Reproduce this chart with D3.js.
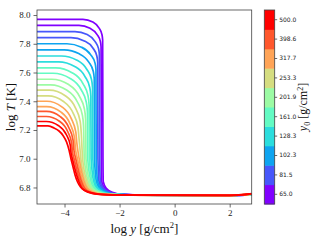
<!DOCTYPE html>
<html>
<head>
<meta charset="utf-8">
<script src="https://cdn.jsdelivr.net/npm/d3@7/dist/d3.min.js"></script>
<style>
  body { margin: 0; background: #fff; }
  .tick text { font-family: "Liberation Serif", serif; fill: #222; }
  .cbar .tick text { font-family: "DejaVu Sans", sans-serif; }
</style>
</head>
<body>
<div id="chart"></div>
<script>
// tick values
const xTicks = [-4, -2, 0, 2];
const yTicks = [6.8, 7.0, 7.2, 7.4, 7.6, 7.8, 8.0];

// colourbar: y0 bins, bottom to top
const cbarLabels = ["65.0", "81.5", "102.3", "128.3", "161.0", "201.9", "253.3", "317.7", "398.6", "500.0"];
const cbarColors = ["#8000ff", "#4757fb", "#0ea4f0", "#2bdddd", "#63fbc3", "#9cfba4", "#d5dd80", "#ffa457", "#ff572c", "#ff0000"];

// colour bin of each profile, hottest (top) profile first
const profileBin = [0, 0, 1, 1, 2, 2, 3, 3, 4, 4, 5, 5, 6, 6, 7, 7, 8, 8, 9, 9];

// [log y, log T], one list per profile
const profiles = [
  [[-5, 7.970], [-3.330, 7.970], [-2.973, 7.951], [-2.744, 7.909], [-2.639, 7.863], [-2.615, 7.826], [-2.603, 7.0], [-2.592, 6.84], [-2.482, 6.795], [-2.262, 6.767], [-1.862, 6.752], [-0.992, 6.747], [2.0, 6.745], [2.8, 6.748]],
  [[-5, 7.928], [-3.475, 7.928], [-3.074, 7.908], [-2.817, 7.864], [-2.699, 7.817], [-2.672, 7.778], [-2.662, 7.0], [-2.649, 6.84], [-2.539, 6.795], [-2.319, 6.767], [-1.919, 6.752], [-1.049, 6.747], [2.0, 6.745], [2.8, 6.748]],
  [[-5, 7.885], [-3.620, 7.885], [-3.177, 7.864], [-2.894, 7.817], [-2.764, 7.766], [-2.734, 7.725], [-2.724, 7.0], [-2.697, 6.84], [-2.587, 6.795], [-2.367, 6.767], [-1.967, 6.752], [-1.097, 6.747], [2.0, 6.745], [2.8, 6.749]],
  [[-5, 7.843], [-3.765, 7.843], [-3.281, 7.820], [-2.971, 7.771], [-2.829, 7.717], [-2.796, 7.673], [-2.786, 7.0], [-2.746, 6.84], [-2.636, 6.795], [-2.416, 6.767], [-2.016, 6.752], [-1.146, 6.747], [2.0, 6.745], [2.8, 6.749]],
  [[-5, 7.800], [-3.910, 7.800], [-3.384, 7.776], [-3.048, 7.723], [-2.894, 7.667], [-2.858, 7.620], [-2.848, 7.0], [-2.795, 6.84], [-2.685, 6.795], [-2.465, 6.767], [-2.065, 6.752], [-1.195, 6.747], [2.0, 6.745], [2.8, 6.750]],
  [[-5, 7.757], [-4.012, 7.757], [-3.466, 7.730], [-3.118, 7.672], [-2.957, 7.609], [-2.920, 7.557], [-2.910, 7.0], [-2.844, 6.84], [-2.734, 6.795], [-2.514, 6.767], [-2.114, 6.752], [-1.244, 6.747], [2.0, 6.745], [2.8, 6.750]],
  [[-5, 7.715], [-4.114, 7.715], [-3.548, 7.686], [-3.187, 7.621], [-3.021, 7.552], [-2.982, 7.495], [-2.972, 7.0], [-2.892, 6.84], [-2.782, 6.795], [-2.562, 6.767], [-2.162, 6.752], [-1.292, 6.747], [2.0, 6.745], [2.8, 6.751]],
  [[-5, 7.674], [-4.216, 7.674], [-3.630, 7.642], [-3.256, 7.572], [-3.084, 7.496], [-3.044, 7.434], [-3.034, 7.0], [-2.941, 6.84], [-2.831, 6.795], [-2.611, 6.767], [-2.211, 6.752], [-1.341, 6.747], [2.0, 6.745], [2.8, 6.751]],
  [[-5, 7.632], [-4.318, 7.632], [-3.712, 7.597], [-3.325, 7.521], [-3.147, 7.439], [-3.106, 7.372], [-3.096, 7.0], [-2.990, 6.84], [-2.880, 6.795], [-2.660, 6.767], [-2.260, 6.752], [-1.390, 6.747], [2.0, 6.745], [2.8, 6.752]],
  [[-5, 7.595], [-4.420, 7.595], [-3.794, 7.559], [-3.395, 7.480], [-3.211, 7.395], [-3.168, 7.325], [-3.158, 7.0], [-3.038, 6.84], [-2.928, 6.795], [-2.708, 6.767], [-2.308, 6.752], [-1.438, 6.747], [2.0, 6.745], [2.8, 6.752]],
  [[-5, 7.553], [-4.464, 7.553], [-3.850, 7.516], [-3.457, 7.434], [-3.277, 7.346], [-3.235, 7.273], [-3.220, 7.0], [-3.087, 6.84], [-2.977, 6.795], [-2.757, 6.767], [-2.357, 6.752], [-1.487, 6.747], [2.0, 6.745], [2.8, 6.752]],
  [[-5, 7.514], [-4.508, 7.514], [-3.909, 7.476], [-3.527, 7.393], [-3.351, 7.303], [-3.310, 7.229], [-3.282, 7.0], [-3.136, 6.84], [-3.026, 6.795], [-2.806, 6.767], [-2.406, 6.752], [-1.536, 6.747], [2.0, 6.745], [2.8, 6.753]],
  [[-5, 7.477], [-4.552, 7.477], [-3.973, 7.438], [-3.604, 7.354], [-3.433, 7.262], [-3.394, 7.187], [-3.344, 7.0], [-3.184, 6.84], [-3.074, 6.795], [-2.854, 6.767], [-2.454, 6.752], [-1.584, 6.747], [2.0, 6.745], [2.8, 6.753]],
  [[-5, 7.437], [-4.596, 7.437], [-4.036, 7.398], [-3.679, 7.314], [-3.514, 7.222], [-3.476, 7.147], [-3.406, 7.0], [-3.233, 6.84], [-3.123, 6.795], [-2.903, 6.767], [-2.503, 6.752], [-1.633, 6.747], [2.0, 6.745], [2.8, 6.754]],
  [[-5, 7.400], [-4.640, 7.400], [-4.097, 7.361], [-3.750, 7.277], [-3.590, 7.185], [-3.553, 7.110], [-3.468, 7.0], [-3.282, 6.84], [-3.172, 6.795], [-2.952, 6.767], [-2.552, 6.752], [-1.682, 6.747], [2.0, 6.745], [2.8, 6.754]],
  [[-5, 7.363], [-4.646, 7.363], [-4.126, 7.324], [-3.793, 7.240], [-3.640, 7.148], [-3.605, 7.073], [-3.530, 7.0], [-3.331, 6.84], [-3.221, 6.795], [-3.001, 6.767], [-2.601, 6.752], [-1.731, 6.747], [2.0, 6.745], [2.8, 6.755]],
  [[-5, 7.329], [-4.652, 7.329], [-4.155, 7.293], [-3.837, 7.214], [-3.691, 7.129], [-3.657, 7.059], [-3.592, 7.0], [-3.379, 6.84], [-3.269, 6.795], [-3.049, 6.767], [-2.649, 6.752], [-1.779, 6.747], [2.0, 6.745], [2.8, 6.755]],
  [[-5, 7.294], [-4.658, 7.294], [-4.184, 7.261], [-3.881, 7.188], [-3.741, 7.109], [-3.709, 7.044], [-3.654, 7.0], [-3.428, 6.84], [-3.318, 6.795], [-3.098, 6.767], [-2.698, 6.752], [-1.828, 6.747], [2.0, 6.745], [2.8, 6.756]],
  [[-5, 7.259], [-4.664, 7.259], [-4.214, 7.230], [-3.926, 7.165], [-3.794, 7.096], [-3.763, 7.039], [-3.716, 7.0], [-3.477, 6.84], [-3.367, 6.795], [-3.147, 6.767], [-2.747, 6.752], [-1.877, 6.747], [2.0, 6.745], [2.8, 6.756]],
  [[-5, 7.229], [-4.600, 7.228], [-4.382, 7.214], [-4.200, 7.193], [-4.055, 7.162], [-3.927, 7.117], [-3.836, 7.061], [-3.764, 6.998], [-3.691, 6.943], [-3.618, 6.887], [-3.527, 6.838], [-3.418, 6.803], [-3.255, 6.779], [-3.000, 6.762], [-2.709, 6.753], [-2.164, 6.748], [2.0, 6.745], [2.8, 6.757]]
];

const width = 314, height = 245;
const plot = { left: 37, top: 10, right: 251.7, bottom: 204 };
const cbar = { left: 264.3, right: 274.7, top: 10, bottom: 204 };

const svg = d3.select('#chart')
  .append('svg')
  .attr('width', width)
  .attr('height', height);

const x = d3.scaleLinear().domain([-5, 2.8]).range([plot.left, plot.right]);
const y = d3.scaleLinear().domain([6.685, 8.035]).range([plot.bottom, plot.top]);

// clip lines to the axes box
svg.append('clipPath').attr('id', 'clip')
  .append('rect')
  .attr('x', plot.left).attr('y', plot.top)
  .attr('width', plot.right - plot.left).attr('height', plot.bottom - plot.top);

const line = d3.line()
  .x(d => x(d[0]))
  .y(d => y(d[1]))
  .curve(d3.curveMonotoneX);

svg.append('g')
  .attr('clip-path', 'url(#clip)')
  .selectAll('path')
  .data(profiles)
  .enter()
  .append('path')
  .attr('d', line)
  .attr('fill', 'none')
  .attr('stroke', (d, i) => cbarColors[profileBin[i]])
  .attr('stroke-width', 1.7);

// axes
const minus = v => (v < 0 ? '\u2212' + Math.abs(v) : String(v));

const xAxis = svg.append('g')
  .attr('transform', `translate(0, ${plot.bottom})`)
  .call(d3.axisBottom(x).tickValues(xTicks).tickSize(3.5).tickPadding(2.5).tickFormat(minus));

const yAxis = svg.append('g')
  .attr('transform', `translate(${plot.left}, 0)`)
  .call(d3.axisLeft(y).tickValues(yTicks).tickSize(3.5).tickPadding(3).tickFormat(d3.format('.1f')));

[xAxis, yAxis].forEach(g => {
  g.select('.domain').remove();
  g.selectAll('.tick line').attr('stroke', '#444').attr('stroke-width', 0.8);
  g.selectAll('.tick text').attr('font-size', 9);
});

svg.append('rect')
  .attr('x', plot.left).attr('y', plot.top)
  .attr('width', plot.right - plot.left).attr('height', plot.bottom - plot.top)
  .attr('fill', 'none')
  .attr('stroke', '#444')
  .attr('stroke-width', 0.8);

// axis labels
const yLabel = svg.append('text')
  .attr('transform', `translate(15, ${(plot.top + plot.bottom) / 2}) rotate(-90)`)
  .attr('text-anchor', 'middle')
  .attr('font-family', 'Liberation Serif, serif')
  .attr('font-size', 13)
  .attr('fill', '#111');
yLabel.append('tspan').text('log ');
yLabel.append('tspan').attr('font-style', 'italic').text('T');
yLabel.append('tspan').text(' [K]');

const xLabel = svg.append('text')
  .attr('x', (plot.left + plot.right) / 2)
  .attr('y', 232.5)
  .attr('text-anchor', 'middle')
  .attr('font-family', 'Liberation Serif, serif')
  .attr('font-size', 13)
  .attr('fill', '#111');
xLabel.append('tspan').text('log  ');
xLabel.append('tspan').attr('font-style', 'italic').text('y');
xLabel.append('tspan').text(' [g/cm');
xLabel.append('tspan').attr('font-size', 8.5).attr('dy', -5).text('2');
xLabel.append('tspan').attr('dy', 5).text(']');

// colourbar
const cy = d3.scaleBand()
  .domain(d3.range(cbarLabels.length))
  .range([cbar.bottom, cbar.top]);

const cb = svg.append('g').attr('class', 'cbar');

cb.selectAll('rect.bin')
  .data(cbarColors)
  .enter()
  .append('rect')
  .attr('class', 'bin')
  .attr('x', cbar.left)
  .attr('y', (d, i) => cy(i))
  .attr('width', cbar.right - cbar.left)
  .attr('height', cy.bandwidth() + 0.5)
  .attr('fill', d => d);

cb.append('rect')
  .attr('x', cbar.left).attr('y', cbar.top)
  .attr('width', cbar.right - cbar.left).attr('height', cbar.bottom - cbar.top)
  .attr('fill', 'none')
  .attr('stroke', '#444')
  .attr('stroke-width', 0.8);

const cAxis = cb.append('g')
  .attr('transform', `translate(${cbar.right}, 0)`)
  .call(d3.axisRight(cy).tickSize(2.5).tickPadding(2).tickFormat(i => cbarLabels[i]));
cAxis.select('.domain').remove();
cAxis.selectAll('.tick line').attr('stroke', '#444').attr('stroke-width', 0.8);
cAxis.selectAll('.tick text').attr('font-size', 6);

const cLabel = svg.append('text')
  .attr('transform', `translate(307, ${(cbar.top + cbar.bottom) / 2}) rotate(-90)`)
  .attr('text-anchor', 'middle')
  .attr('font-family', 'Liberation Serif, serif')
  .attr('font-size', 12)
  .attr('fill', '#111');
cLabel.append('tspan').attr('font-style', 'italic').text('y');
cLabel.append('tspan').attr('font-size', 8).attr('dy', 2.5).text('0');
cLabel.append('tspan').attr('dy', -2.5).text(' [g/cm');
cLabel.append('tspan').attr('font-size', 8).attr('dy', -4.5).text('2');
cLabel.append('tspan').attr('dy', 4.5).text(']');
</script>
</body>
</html>
